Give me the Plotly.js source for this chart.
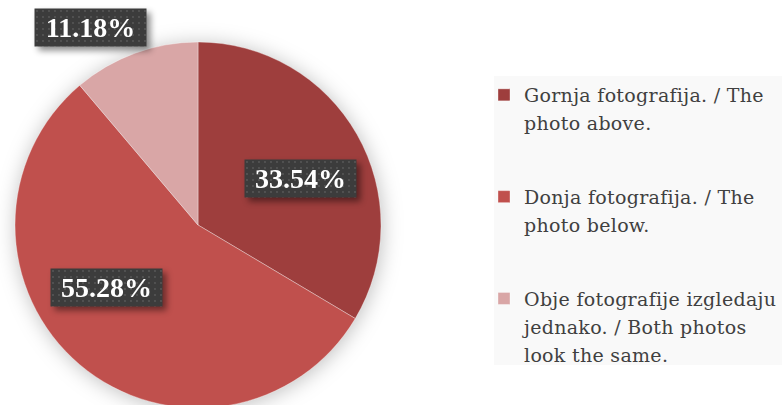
<!DOCTYPE html>
<html><head><meta charset="utf-8">
<script src="https://cdn.plot.ly/plotly-3.0.1.min.js"></script>
<style>html,body{margin:0;padding:0;overflow:hidden;background:#fff;} #chart{width:782px;height:410px;}</style>
</head><body><div id="chart"></div>
<script>
// ---- data ----
const categories = [
  "Gornja fotografija. / The<br>photo above.",
  "Donja fotografija. / The<br>photo below.",
  "Obje fotografije izgledaju<br>jednako. / Both photos<br>look the same."
];
const counts = [54, 89, 18];
const sliceColors = ["#9E3E3D", "#C0504D", "#D9A6A6"];

// ---- layout constants ----
const W = 782, H = 410;
const px = x => x / W, py = y => 1 - y / H;
const labelPos = [[300, 179], [106, 287], [90, 27]];
const legendBox = {left: 484, bgLeft: 494, top: 76, bottom: 365};
const pad = "<br>\u00A0<br>\u00A0";
const legendText = categories.map((c, i) => i < 2 ? c + pad : c);

const total = counts.reduce((a, b) => a + b, 0);
const pctText = counts.map(v => (v / total * 100).toFixed(2) + "%");

const trace = {
  type: "pie",
  labels: legendText,
  values: counts,
  sort: false,
  direction: "clockwise",
  rotation: 0,
  textinfo: "none",
  hoverinfo: "label+percent",
  marker: {colors: sliceColors, line: {color: "rgba(255,255,255,0.35)", width: 1}},
  domain: {x: [px(15), px(381)], y: [py(408), py(42)]}
};

const annotations = pctText.map((t, i) => ({
  xref: "paper", yref: "paper",
  x: px(labelPos[i][0]), y: py(labelPos[i][1]),
  xanchor: "center", yanchor: "middle",
  text: "<b>" + t + "</b>",
  showarrow: false,
  font: {family: "Liberation Serif", size: 28, color: "#FFFFFF"},
  bgcolor: "#3E3E3E",
  borderpad: 2,
  width: 107, height: 33
}));

const layout = {
  width: W, height: H,
  margin: {l: 0, r: 0, t: 0, b: 0, autoexpand: false},
  paper_bgcolor: "#FFFFFF",
  showlegend: true,
  legend: {
    x: px(legendBox.left), y: py(legendBox.top), xanchor: "left", yanchor: "top",
    bgcolor: "#F9F9F9", borderwidth: 0,
    valign: "top",
    font: {family: "DejaVu Serif", size: 19, color: "#404040"}
  },
  annotations: annotations
};

Plotly.newPlot("chart", [trace], layout, {displayModeBar: false, staticPlot: true}).then(gd => {
  const svg = gd.querySelector(".main-svg");
  const ns = "http://www.w3.org/2000/svg";
  let defs = svg.querySelector("defs");
  if (!defs) { defs = document.createElementNS(ns, "defs"); svg.insertBefore(defs, svg.firstChild); }
  const pat = document.createElementNS(ns, "pattern");
  pat.setAttribute("id", "dotpat");
  pat.setAttribute("width", "6"); pat.setAttribute("height", "6");
  pat.setAttribute("patternUnits", "userSpaceOnUse");
  const r = document.createElementNS(ns, "rect");
  r.setAttribute("width", "6"); r.setAttribute("height", "6"); r.setAttribute("fill", "#3C3C3C");
  const c = document.createElementNS(ns, "circle");
  c.setAttribute("cx", "3"); c.setAttribute("cy", "3"); c.setAttribute("r", "0.9"); c.setAttribute("fill", "#5A5A5A");
  pat.appendChild(r); pat.appendChild(c); defs.appendChild(pat);
  gd.querySelectorAll(".annotation-text-g rect.bg").forEach(el => { el.style.fill = "url(#dotpat)"; });
  gd.querySelectorAll(".annotation").forEach(el => { el.style.filter = "drop-shadow(4px 4px 3px rgba(0,0,0,0.45))"; });
  gd.querySelectorAll(".pielayer").forEach(el => { el.style.filter = "drop-shadow(1px 2px 10px rgba(0,0,0,0.25))"; });
  // legend text: slightly wider spacing and taller line pitch
  gd.querySelectorAll(".legend text.legendtext").forEach(el => {
    el.style.letterSpacing = "0.3px";
    el.querySelectorAll("tspan.line").forEach(ts => {
      const dy = parseFloat(ts.getAttribute("dy"));
      if (!isNaN(dy)) ts.setAttribute("dy", (dy / 1.3 * 1.47) + "em");
    });
  });
  // no clipping of the legend contents
  gd.querySelectorAll(".legend [clip-path]").forEach(el => el.removeAttribute("clip-path"));
  // legend background box extends to the right edge
  const bg = gd.querySelector(".legend rect.bg");
  if (bg) {
    const off = legendBox.bgLeft - legendBox.left;
    bg.setAttribute("x", off);
    bg.setAttribute("width", W - legendBox.bgLeft);
    bg.setAttribute("height", legendBox.bottom - legendBox.top);
  }
});
</script>
</body></html>
